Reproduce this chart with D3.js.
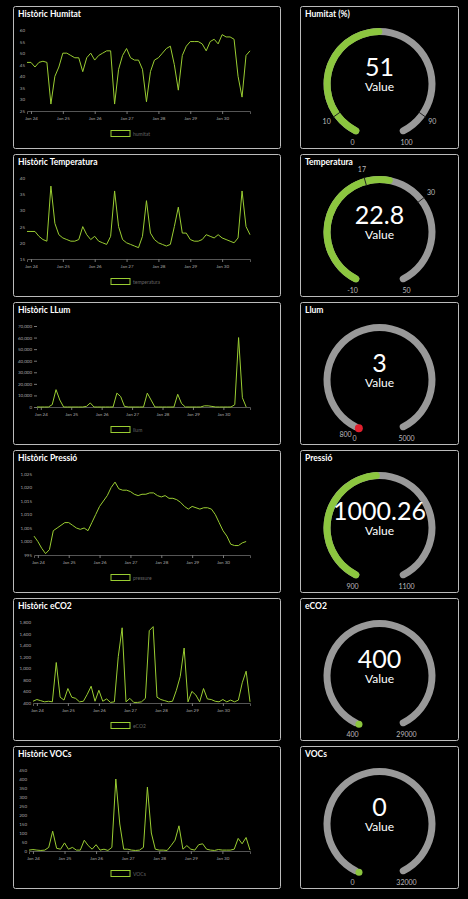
<!DOCTYPE html>
<html>
<head>
<meta charset="utf-8">
<script src="https://cdn.jsdelivr.net/npm/d3@7"></script>
<style>
  body { margin: 0; background: #000; }
  text { font-family: Lato, "Open Sans", sans-serif; }
</style>
</head>
<body>
<div id="chart"></div>
<script>
// ---- data ----
const chartTitles = ['Històric Humitat', 'Històric Temperatura', 'Històric LLum', 'Històric Pressió', 'Històric eCO2', 'Històric VOCs'];
const legendLabels = ['humitat', 'temperatura', 'llum', 'pressure', 'eCO2', 'VOCs'];
const yDomains = [[25, 60], [15, 40], [0, 70000], [995, 1025], [400, 1800], [0, 450]];
const yTickSteps = [5, 5, 10000, 5, 200, 50];

// one reading every 3 hours starting Jan 23 21:00
const humitat = [46, 46, 44, 46, 46.5, 46, 28, 40, 44, 50, 50, 49, 48, 48, 42, 48, 50, 47, 49, 50, 51, 51, 28, 43, 49, 52, 48, 47, 47, 43, 29, 42, 47, 48, 50, 52, 53, 45, 34, 49, 53, 55, 55, 55, 54, 51, 55, 56, 54, 58, 57, 57, 56, 40, 31, 49, 51];
const temperatura = [23.5, 23.5, 23.5, 22, 21, 20.5, 37.5, 26, 22.5, 21.5, 21, 20.5, 20.5, 21, 25, 22.5, 21, 22, 20.5, 20, 19.5, 22, 36, 25, 21, 20, 19.5, 19, 18.5, 22, 33, 23, 21, 20, 19.5, 19, 19.5, 25, 31, 23, 23, 21, 20.5, 20.5, 21, 22.5, 22, 21.5, 22.5, 21.5, 21, 20.5, 20, 21.5, 36, 25, 22.5];
const llum = [0, 0, 0, 0, 2000, 15000, 6000, 0, 0, 0, 0, 0, 0, 500, 3500, 0, 0, 0, 0, 0, 0, 12000, 9000, 500, 0, 0, 0, 0, 0, 12000, 6000, 0, 0, 0, 0, 0, 0, 11000, 3000, 0, 0, 0, 0, 0, 1000, 1000, 500, 0, 0, 0, 0, 0, 2000, 60000, 8000, 0];
const pressio = [1002, 1000, 997.5, 995.5, 997, 1004, 1005, 1006, 1007, 1007, 1006, 1005, 1004.5, 1005, 1004, 1007, 1010, 1013, 1015, 1017, 1020, 1022, 1019.5, 1019, 1019, 1018.5, 1017.5, 1017, 1017.5, 1017.5, 1018, 1018, 1017, 1016.5, 1017, 1016, 1016, 1015.5, 1014.5, 1013, 1012, 1013, 1012.5, 1012, 1012.5, 1012.5, 1012, 1010, 1007, 1004, 1002, 999, 998.5, 998.5, 999.5, 1000];
const eco2 = [430, 460, 440, 420, 430, 420, 1100, 500, 450, 650, 500, 480, 420, 430, 550, 690, 430, 620, 430, 470, 410, 420, 1200, 1700, 420, 480, 410, 410, 420, 480, 1650, 1720, 500, 460, 440, 420, 430, 620, 860, 1350, 420, 600, 540, 420, 650, 470, 460, 430, 420, 460, 420, 450, 420, 450, 750, 950, 420];
const vocs = [5, 8, 5, 3, 5, 20, 110, 15, 10, 45, 10, 20, 5, 5, 60, 30, 10, 35, 5, 10, 3, 20, 400, 150, 10, 10, 5, 3, 5, 20, 355, 100, 10, 5, 5, 3, 30, 60, 140, 10, 30, 10, 5, 35, 40, 10, 5, 3, 8, 5, 5, 5, 10, 70, 40, 75, 5];
const series = [humitat, temperatura, llum, pressio, eco2, vocs];

const gaugeTitles = ['Humitat (%)', 'Temperatura', 'Llum', 'Pressió', 'eCO2', 'VOCs'];
const gaugeValues = [51, 22.8, 3, 1000.26, 400, 0];
const gaugeMin = [0, -10, 0, 900, 400, 0];
const gaugeMax = [100, 50, 5000, 1100, 29000, 32000];
const gaugeThresholds = [[10, 90], [17, 30], [], [], [], []];
const gaugeExtraMinLabel = ['', '', '800', '', '', ''];
const gaugeValueColors = ['#8cc63f', '#8cc63f', '#e0202e', '#8cc63f', '#8cc63f', '#8cc63f'];

// ---- layout ----
const width = 468, height = 899;
const panelTop = 6, panelStep = 148, panelH = 142;
const leftX = 13, leftW = 267, rightX = 300, rightW = 158;
const marginLefts = [14, 14, 24, 21, 20, 16];
const green = '#9acd32';

const svg = d3.select('#chart').append('svg')
  .attr('width', width).attr('height', height)
  .style('background', '#000');

const t0 = new Date(2023, 0, 23, 21);
const step = 3 * 3600 * 1000;
const tEnd = new Date(t0.getTime() + 56 * step);

series.forEach((values, i) => {
  const top = panelTop + i * panelStep;
  const g = svg.append('g').attr('transform', `translate(${leftX},${top})`);
  g.append('rect').attr('x', 0.5).attr('y', 0.5).attr('width', leftW).attr('height', panelH)
    .attr('rx', 2).attr('fill', '#000').attr('stroke', '#bbb');
  g.append('text').attr('x', 5).attr('y', 11).attr('fill', '#fff')
    .attr('font-size', 8.5).attr('font-weight', 'bold').text(chartTitles[i]);

  const plotLeft = marginLefts[i], plotRight = 237, plotTop = 24, plotBottom = 105;
  const x = d3.scaleTime().domain([t0, tEnd]).range([plotLeft, plotRight]);
  const y = d3.scaleLinear().domain(yDomains[i]).range([plotBottom, plotTop]);

  const xAxis = g.append('g').attr('transform', `translate(0,${plotBottom})`)
    .call(d3.axisBottom(x).ticks(d3.timeDay.every(1)).tickFormat(d3.timeFormat('%b %d')).tickSize(3));
  const yAxis = g.append('g').attr('transform', `translate(${plotLeft},0)`)
    .call(d3.axisLeft(y).tickValues(d3.range(yDomains[i][0], yDomains[i][1] + 1e-9, yTickSteps[i]))
      .tickFormat(d3.format(',')).tickSize(i === 2 ? 3 : 0).tickPadding(2));
  yAxis.select('.domain').remove();
  [xAxis, yAxis].forEach(a => {
    a.selectAll('text').attr('fill', '#aaa').attr('font-size', 4.5);
    a.selectAll('line').attr('stroke', '#777');
    a.selectAll('.domain').attr('stroke', '#555');
  });

  const line = d3.line()
    .x((d, k) => x(new Date(t0.getTime() + k * step)))
    .y(d => y(d));
  g.append('path').datum(values).attr('d', line)
    .attr('fill', 'none').attr('stroke', green).attr('stroke-width', 1);

  // legend
  g.append('rect').attr('x', 98).attr('y', 124.5).attr('width', 19).attr('height', 6)
    .attr('fill', 'none').attr('stroke', green).attr('stroke-width', 1);
  g.append('text').attr('x', 120).attr('y', 129.8).attr('fill', '#666')
    .attr('font-size', 5).text(legendLabels[i]);
});

const deg = Math.PI / 180;
const a0 = -157 * deg, a1 = 157 * deg;
const rOuter = 56, rInner = 49;

gaugeValues.forEach((v, i) => {
  const top = panelTop + i * panelStep;
  const g = svg.append('g').attr('transform', `translate(${rightX},${top})`);
  g.append('rect').attr('x', 0.5).attr('y', 0.5).attr('width', rightW).attr('height', panelH)
    .attr('rx', 2).attr('fill', '#000').attr('stroke', '#bbb');
  g.append('text').attr('x', 5).attr('y', 11).attr('fill', '#fff')
    .attr('font-size', 8.5).attr('font-weight', 'bold').text(gaugeTitles[i]);

  const cx = 79.5, cy = 78;
  const c = g.append('g').attr('transform', `translate(${cx},${cy})`);
  const scale = d3.scaleLinear().domain([gaugeMin[i], gaugeMax[i]]).range([a0, a1]).clamp(true);
  const arc = d3.arc().innerRadius(rInner).outerRadius(rOuter).cornerRadius(3.5);
  c.append('path').attr('d', arc({ startAngle: a0, endAngle: a1 })).attr('fill', '#999');
  const va = scale(v);
  const rMid = (rInner + rOuter) / 2;
  if (va - a0 > 0.05 && i !== 2) {
    c.append('path').attr('d', arc({ startAngle: a0, endAngle: va })).attr('fill', gaugeValueColors[i]);
  } else {
    c.append('circle').attr('cx', rMid * Math.sin(va)).attr('cy', -rMid * Math.cos(va))
      .attr('r', i === 2 ? 4 : 3.5).attr('fill', gaugeValueColors[i]);
  }

  gaugeThresholds[i].forEach(t => {
    const a = scale(t);
    c.append('line')
      .attr('x1', (rInner - 1) * Math.sin(a)).attr('y1', -(rInner - 1) * Math.cos(a))
      .attr('x2', (rOuter + 1) * Math.sin(a)).attr('y2', -(rOuter + 1) * Math.cos(a))
      .attr('stroke', '#222').attr('stroke-width', 1);
    c.append('text').attr('x', 65 * Math.sin(a)).attr('y', -65 * Math.cos(a) + 2.5)
      .attr('text-anchor', 'middle').attr('fill', '#bbb').attr('font-size', 7).text(t);
  });

  c.append('text').attr('x', i === 2 ? -25 : -27).attr('y', 61).attr('text-anchor', 'middle')
    .attr('fill', '#bbb').attr('font-size', 7).text(gaugeMin[i]);
  if (gaugeExtraMinLabel[i]) {
    c.append('text').attr('x', -34).attr('y', 57).attr('text-anchor', 'middle')
      .attr('fill', '#bbb').attr('font-size', 7).text(gaugeExtraMinLabel[i]);
  }
  c.append('text').attr('x', 27).attr('y', 61).attr('text-anchor', 'middle')
    .attr('fill', '#bbb').attr('font-size', 7).text(gaugeMax[i]);

  c.append('text').attr('x', 0).attr('y', -8).attr('text-anchor', 'middle')
    .attr('fill', '#fff').attr('font-size', 25).text(v);
  c.append('text').attr('x', 0).attr('y', 7).attr('text-anchor', 'middle')
    .attr('fill', '#fff').attr('font-size', 12).text('Value');
});
</script>
</body>
</html>
